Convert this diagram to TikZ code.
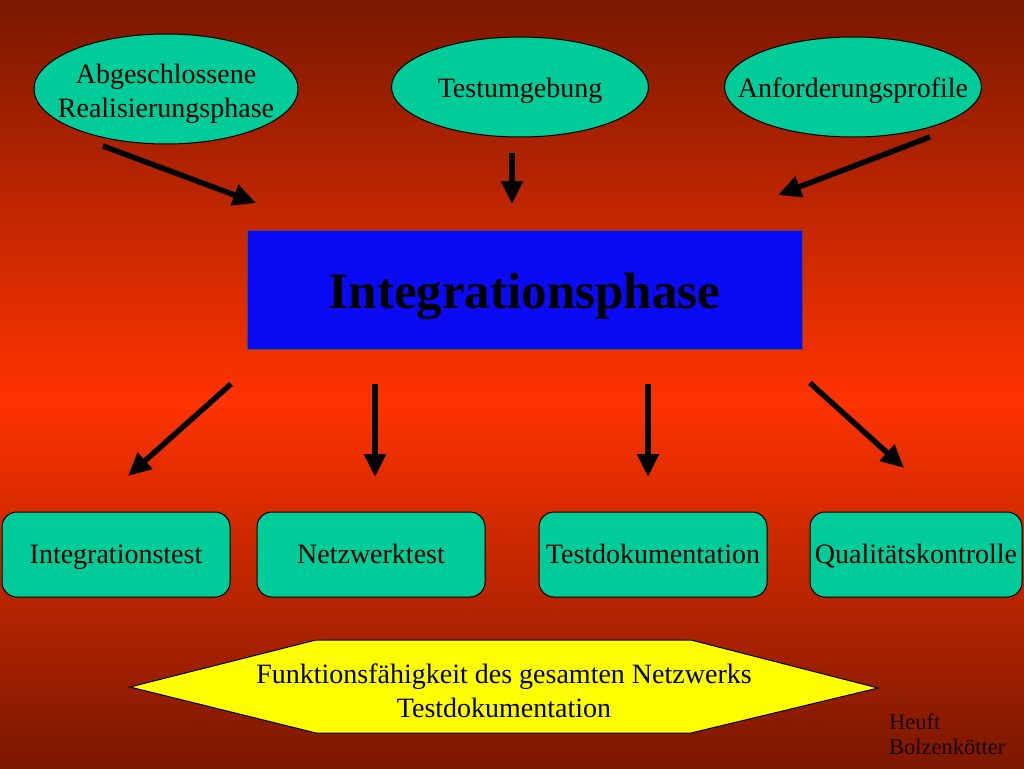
\documentclass[tikz,border=0pt]{standalone}
\usepackage{fontspec}
\setmainfont{Liberation Serif}
\usetikzlibrary{shapes.geometric,arrows.meta}
\definecolor{bgdark}{HTML}{7A1800}
\definecolor{bgmid}{HTML}{FF3300}
\definecolor{tealfill}{HTML}{00CC99}
\definecolor{bluefill}{HTML}{0A0AF5}
\definecolor{yellowfill}{HTML}{FFFF00}
\begin{document}
\begin{tikzpicture}[x=1pt,y=-1pt,
  txt/.style={font=\fontsize{28}{34}\selectfont, text=black, align=center},
  ovalbox/.style={ellipse, draw=black, line width=1pt, fill=tealfill, inner sep=0pt},
  roundbox/.style={rectangle, rounded corners=15pt, draw=black, line width=1pt, fill=tealfill, minimum width=228pt, minimum height=85pt, inner sep=0pt, txt, text height=25pt, text depth=7pt},
  arr/.style={line width=5.5pt, black, -{Triangle[length=23pt,width=21pt]}}
]
\useasboundingbox (0,0) rectangle (1024,768);
\shade[top color=bgdark, bottom color=bgmid] (0,0) rectangle (1024,400);
\shade[top color=bgmid, bottom color=bgdark] (0,399) rectangle (1024,768);

% top ellipses
\node[ovalbox, minimum width=264pt, minimum height=110pt] (e1) at (166,89) {};
\node[txt] (e1t) at (166,94) {Abgeschlossene\\Realisierungsphase};
\node[ovalbox, minimum width=257pt, minimum height=100pt] (e2) at (520,87) {};
\node[txt, text height=19pt, text depth=7pt] (e2t) at (520,91) {Testumgebung};
\node[ovalbox, minimum width=257pt, minimum height=100pt] (e3) at (853,87) {};
\node[txt, text height=19pt, text depth=7pt] (e3t) at (853,91) {Anforderungsprofile};

% main box
\node[rectangle, draw=black!70, line width=1pt, fill=bluefill, minimum width=555pt, minimum height=119pt, inner sep=0pt] (main) at (524.5,289.5) {};
\node[font=\fontsize{51}{60}\selectfont\bfseries, inner sep=0pt] (maint) at (524.5,296) {Integrationsphase};

% top arrows
\coordinate (a1s) at (103,146); \coordinate (a1e) at (256,203);
\coordinate (a2s) at (512,153); \coordinate (a2e) at (512,204);
\coordinate (a3s) at (930,137); \coordinate (a3e) at (778,195);
\draw[arr] (a1s) -- (a1e);
\draw[arr] (a2s) -- (a2e);
\draw[arr] (a3s) -- (a3e);

% bottom arrows
\coordinate (b1s) at (231,384); \coordinate (b1e) at (128,476);
\coordinate (b2s) at (375,384); \coordinate (b2e) at (375,477);
\coordinate (b3s) at (648,384); \coordinate (b3e) at (648,477);
\coordinate (b4s) at (810,383); \coordinate (b4e) at (904,468);
\draw[arr] (b1s) -- (b1e);
\draw[arr] (b2s) -- (b2e);
\draw[arr] (b3s) -- (b3e);
\draw[arr] (b4s) -- (b4e);

% bottom boxes
\node[roundbox] (r1) at (116,554.5) {Integrationstest};
\node[roundbox] (r2) at (371,554.5) {Netzwerktest};
\node[roundbox] (r3) at (653,554.5) {Testdokumentation};
\node[roundbox, minimum width=212pt] (r4) at (916,554.5) {Qualitätskontrolle};

% hexagon
\draw[fill=yellowfill, draw=black, line width=1pt]
  (130,687) -- (316,640) -- (691,640) -- (878,688) -- (691,733) -- (316,733) -- cycle;
\node[txt] (hex) at (504,691) {Funktionsfähigkeit des gesamten Netzwerks\\Testdokumentation};

% author
\node[anchor=north west, inner sep=0pt, align=left, font=\fontsize{22.5}{25}\selectfont, text=black!80!bgdark] (auth) at (889,713) {Heuft\\Bolzenkötter};
\end{tikzpicture}
\end{document}
